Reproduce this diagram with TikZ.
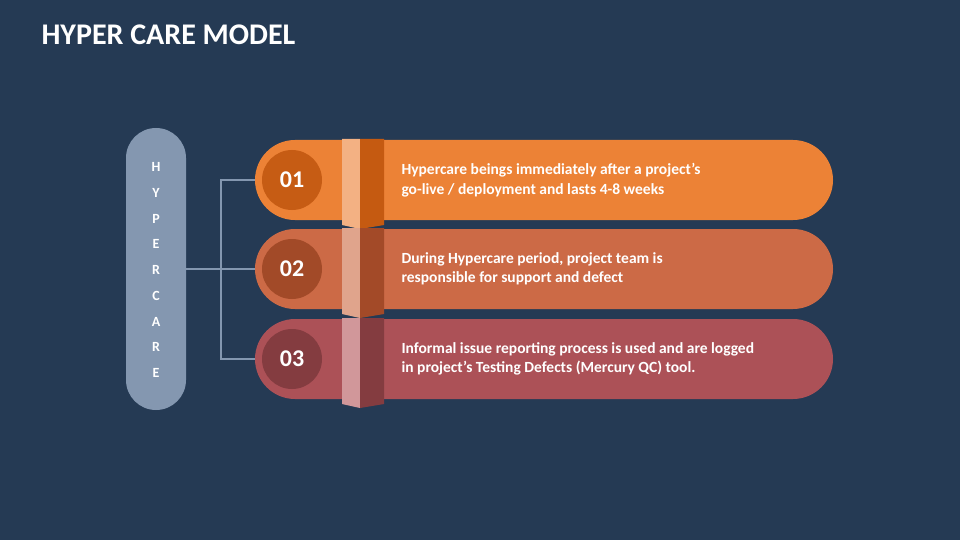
\documentclass[tikz,border=0pt]{standalone}
\usepackage{fontspec}
\setmainfont{Carlito}
\definecolor{bg}{HTML}{253A54}
\definecolor{side}{HTML}{8497B0}
\definecolor{pa}{HTML}{EC8236}\definecolor{ca}{HTML}{C65C14}\definecolor{la}{HTML}{F3B183}\definecolor{da}{HTML}{C55A11}
\definecolor{pb}{HTML}{CC6A46}\definecolor{cb}{HTML}{A24A28}\definecolor{lb}{HTML}{E0A48C}\definecolor{db}{HTML}{A34A28}
\definecolor{pc}{HTML}{AC5157}\definecolor{cc}{HTML}{843C40}\definecolor{lc}{HTML}{D1979A}\definecolor{dc}{HTML}{843C40}
\tikzset{txt/.style={text=white,font=\bfseries\fontsize{15.5}{19.5}\selectfont,align=left,anchor=west},
num/.style={circle,minimum size=60pt,text=white,font=\bfseries\fontsize{24}{24}\selectfont},
conn/.style={draw=side,line width=2pt}}
\begin{document}
\begin{tikzpicture}[x=1pt,y=-1pt]
\fill[bg] (0,0) rectangle (960,540);
\useasboundingbox (0,0) rectangle (960,540);
\node[anchor=west,text=white,font=\bfseries\fontsize{30}{30}\selectfont] (title) at (38,35) {HYPER CARE MODEL};
\fill[side,rounded corners=30pt] (126,128) rectangle (186,410);
\node[coordinate] (side) at (186,269) {};
\foreach \l [count=\i] in {H,Y,P,E,R,C,A,R,E}
  \node[text=white,font=\bfseries\fontsize{14}{14}\selectfont] (l\i) at (156,{167+(\i-1)*25.75}) {\l};
\coordinate (j) at (221,269);
\foreach \y/\p/\c/\li/\d/\n/\t [count=\k] in {
 140/pa/ca/la/da/01/{Hypercare beings immediately after a project’s\\go-live / deployment and lasts 4-8 weeks},
 229/pb/cb/lb/db/02/{During Hypercare period, project team is\\responsible for support and defect},
 319/pc/cc/lc/dc/03/{Informal issue reporting process is used and are logged\\in project’s Testing Defects (Mercury QC) tool.}}{
 \fill[\p,rounded corners=40pt] (255,\y) rectangle (833,\y+80);
 \fill[\li] (342,\y-1) -- (360,\y-1) -- (360,\y+89) -- (342,\y+85) -- cycle;
 \fill[\d] (360,\y-1) -- (384,\y-1) -- (384,\y+85) -- (360,\y+89) -- cycle;
 \node[num,fill=\c] (n\k) at (292,\y+40) {\n};
 \node[txt] (t\k) at (398,\y+40) {\t};
 \coordinate (e\k) at (255,\y+40);
}
\draw[conn] (side) -- (j);
\draw[conn] (e1) -| (j) |- (e3);
\draw[conn] (j) -- (e2);
\end{tikzpicture}
\end{document}
